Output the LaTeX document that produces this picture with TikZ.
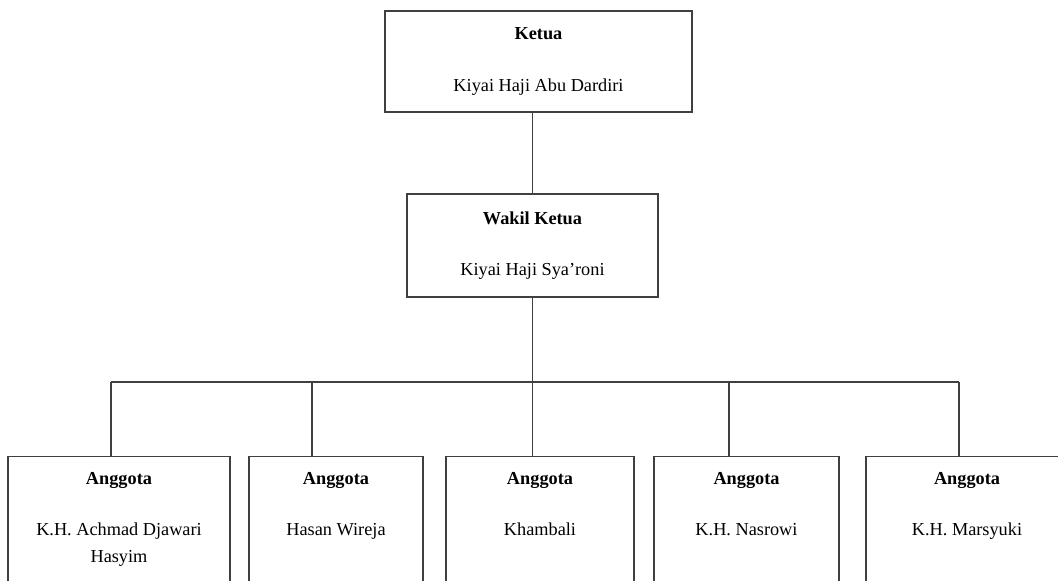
\documentclass[tikz,border=0pt]{standalone}
\usepackage{fontspec}
\setmainfont{Liberation Serif}
\usetikzlibrary{positioning}

\begin{document}
\begin{tikzpicture}[
        x=0.025cm, y=-0.025cm,
        box/.style={
            rectangle,
            draw=black!75, line width=0.9pt,
            align=center,
            font=\fontsize{13}{19.2}\selectfont
        },
        member/.style={box, minimum width=#1, minimum height=3.6cm, anchor=north},
        caption/.style={
            align=center, inner sep=0pt, anchor=north,
            font=\fontsize{13}{19.2}\selectfont
        },
        link/.style={draw=black!75, line width=0.9pt}
    ]

    \useasboundingbox (0,0) rectangle (1058,580);
    \clip (0,0) rectangle (1058,580);

    \node[box, minimum width=7.675cm, minimum height=2.525cm] (ketua) at (538.5,61.5)
        {\textbf{Ketua}\\[17.3pt]
         Kiyai Haji Abu Dardiri};

    \node[box, minimum width=6.275cm, minimum height=2.575cm] (wakil) at (532.5,245.5)
        {\textbf{Wakil Ketua}\\[17.3pt]
         Kiyai Haji Sya’roni};

    % anggota, bottom edge runs off the page
    \node[member=5.55cm]  (anggota1) at (119,456) {};
    \node[member=4.35cm]  (anggota2) at (336,456) {};
    \node[member=4.7cm]   (anggota3) at (540,456) {};
    \node[member=4.625cm] (anggota4) at (746.5,456) {};
    \node[member=5.05cm]  (anggota5) at (967,456) {};

    \node[caption] (nama1) at ([yshift=-0.4cm]anggota1.north)
        {\textbf{Anggota}\\[17.3pt]K.H. Achmad Djawari\\Hasyim};
    \node[caption] (nama2) at ([yshift=-0.4cm]anggota2.north)
        {\textbf{Anggota}\\[17.3pt]Hasan Wireja};
    \node[caption] (nama3) at ([yshift=-0.4cm]anggota3.north)
        {\textbf{Anggota}\\[17.3pt]Khambali};
    \node[caption] (nama4) at ([yshift=-0.4cm]anggota4.north)
        {\textbf{Anggota}\\[17.3pt]K.H. Nasrowi};
    \node[caption] (nama5) at ([yshift=-0.4cm]anggota5.north)
        {\textbf{Anggota}\\[17.3pt]K.H. Marsyuki};

    % bus line
    \coordinate (bus1) at (111,382);
    \coordinate (bus2) at (312,382);
    \coordinate (bus3) at (532.5,382);
    \coordinate (bus4) at (729,382);
    \coordinate (bus5) at (959,382);

    \draw[link] (ketua.south -| wakil.north) -- (wakil.north);
    \draw[link] (wakil.south) -- (bus3);
    \draw[link] (bus1) -- (bus5);
    \draw[link] (bus1) -- (bus1 |- anggota1.north);
    \draw[link] (bus2) -- (bus2 |- anggota2.north);
    \draw[link] (bus3) -- (bus3 |- anggota3.north);
    \draw[link] (bus4) -- (bus4 |- anggota4.north);
    \draw[link] (bus5) -- (bus5 |- anggota5.north);

\end{tikzpicture}
\end{document}
